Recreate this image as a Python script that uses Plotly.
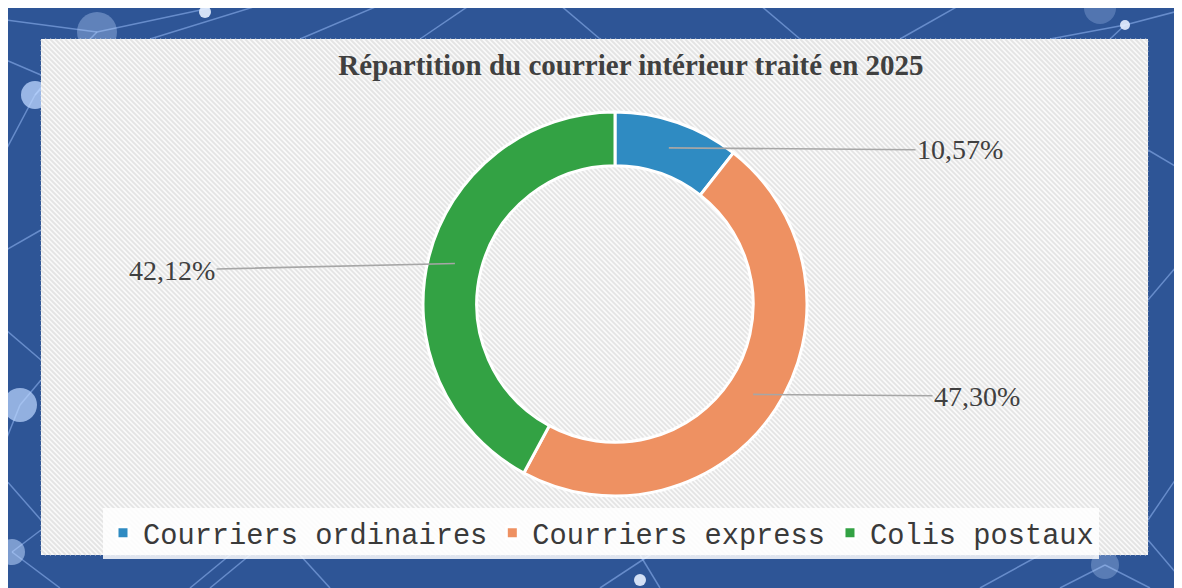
import math
import plotly.graph_objects as go

# ---------------- data ----------------
categories = ["Courriers ordinaires", "Courriers express", "Colis postaux"]
values = [10.57, 47.30, 42.12]
colors = ["#2f8bc2", "#ee9162", "#33a244"]
title_text = "Répartition du courrier intérieur traité en 2025"

# ---------------- layout constants (page pixels) ----------------
OFF = 8                      # page body margin
W, H = 1182 - OFF, 588 - OFF # figure size
CX, CY, R = 615, 304, 192    # donut centre / radius (page pixels)
HOLE = 0.72
label_centres = [(960, 150), (977, 396), (172, 270)]  # label text centres (page pixels)

def px2paper(x, y):
    return (x - OFF) / W, 1 - (y - OFF) / H

# ---------------- background decoration ----------------
shapes = []
net_lines = [
    (6, 20, 97, 32), (97, 32, 210, 8), (97, 32, 35, 95), (35, 95, 6, 150),
    (35, 95, 80, 39), (150, 39, 260, 5), (300, 39, 380, 5), (420, 39, 470, 5),
    (6, 60, 41, 75), (6, 250, 41, 230), (6, 330, 41, 360), (20, 405, 41, 380),
    (20, 405, 6, 440), (6, 480, 41, 520), (12, 552, 41, 530), (12, 552, 60, 588),
    (190, 588, 230, 555), (210, 588, 250, 555), (330, 588, 300, 555),
    (600, 588, 650, 555), (660, 588, 640, 555), (980, 588, 1040, 555),
    (1060, 588, 1105, 565), (1105, 565, 1150, 588), (1148, 520, 1182, 470),
    (1148, 540, 1182, 580), (1148, 300, 1182, 260), (1148, 150, 1182, 170),
    (1050, 39, 1125, 25), (1125, 25, 1182, 10), (1125, 25, 1110, 39),
    (900, 39, 960, 5), (760, 5, 800, 39), (560, 5, 600, 39),
]
for x0, y0, x1, y1 in net_lines:
    a = px2paper(x0, y0)
    b = px2paper(x1, y1)
    shapes.append(dict(type="line", xref="paper", yref="paper", layer="below",
                       x0=a[0], y0=a[1], x1=b[0], y1=b[1],
                       line=dict(color="rgba(160,195,255,0.5)", width=1.5)))
net_nodes = [(97, 32, 20, 0.35), (35, 95, 14, 0.75), (20, 405, 17, 0.7),
             (12, 552, 13, 0.55), (1105, 565, 14, 0.3), (1100, 8, 16, 0.25)]
for x, y, r, op in net_nodes:
    a = px2paper(x - r, y - r)
    b = px2paper(x + r, y + r)
    shapes.append(dict(type="circle", xref="paper", yref="paper", layer="below",
                       x0=a[0], y0=b[1], x1=b[0], y1=a[1],
                       fillcolor="rgba(190,215,255,%.2f)" % op, line=dict(width=0)))
for x, y, r in [(205, 12, 6), (1125, 25, 5), (640, 580, 6)]:
    a = px2paper(x - r, y - r)
    b = px2paper(x + r, y + r)
    shapes.append(dict(type="circle", xref="paper", yref="paper", layer="below",
                       x0=a[0], y0=b[1], x1=b[0], y1=a[1],
                       fillcolor="rgba(230,240,255,0.9)", line=dict(width=0)))

# light panel
PX0, PX1, PY0, PY1 = 41, 1148, 39, 555
a = px2paper(PX0, PY0)
b = px2paper(PX1, PY1)
shapes.append(dict(type="rect", xref="paper", yref="paper", layer="below",
                   x0=a[0], y0=b[1], x1=b[0], y1=a[1],
                   fillcolor="#f9f9f9", line=dict(width=0)))
# hatch stripes
segs = []
c = PX0 - PY1
while c <= PX1 - PY0:
    ya = max(PY0, PX0 - c)
    yb = min(PY1, PX1 - c)
    if yb > ya:
        p0 = px2paper(ya + c, ya)
        p1 = px2paper(yb + c, yb)
        segs.append("M%.5f,%.5fL%.5f,%.5f" % (p0[0], p0[1], p1[0], p1[1]))
    c += 5
shapes.append(dict(type="path", xref="paper", yref="paper", layer="below",
                   path="".join(segs), line=dict(color="#e4e4e4", width=1.8)))

# ---------------- donut ----------------
fig = go.Figure()
dx0, dy0 = px2paper(CX - R, CY + R)
dx1, dy1 = px2paper(CX + R, CY - R)
fig.add_trace(go.Pie(
    labels=categories, values=values, hole=HOLE, sort=False,
    direction="clockwise", rotation=0,
    marker=dict(colors=colors, line=dict(color="white", width=3)),
    textinfo="none", hoverinfo="label+percent",
    domain=dict(x=[dx0, dx1], y=[dy0, dy1]),
))

# labels with leader lines
total = sum(values)
rm = R * (1 + HOLE) / 2
annotations = []
cum = 0
for v, (tx, ty) in zip(values, label_centres):
    th = 2 * math.pi * (cum + v / 2) / total
    cum += v
    hx = CX + rm * math.sin(th)
    hy = CY - rm * math.cos(th)
    xp, yp = px2paper(hx, hy)
    annotations.append(dict(
        x=xp, y=yp, xref="paper", yref="paper",
        ax=tx - hx, ay=ty - hy, axref="pixel", ayref="pixel",
        text=("%.2f" % v).replace(".", ",") + "%",
        showarrow=True, arrowhead=0, arrowwidth=1.6, arrowcolor="#a6a6a6",
        standoff=0, startstandoff=0,
        font=dict(family="Liberation Serif", size=28, color="#404040"),
    ))

tx, ty = px2paper(631, 65)
lx, ly = px2paper(601, 533)
fig.update_layout(
    width=W, height=H,
    margin=dict(l=0, r=0, t=0, b=0),
    paper_bgcolor="#2e5596", plot_bgcolor="#2e5596",
    shapes=shapes, annotations=annotations,
    title=dict(text=title_text, x=tx, y=ty,
               xanchor="center", yanchor="middle", xref="paper", yref="paper",
               font=dict(family="Liberation Serif", size=29, color="#404040",
                         weight="bold")),
    showlegend=True,
    legend=dict(orientation="h", x=lx, xanchor="center",
                y=ly, yanchor="middle",
                bgcolor="rgba(255,255,255,0.85)",
                font=dict(family="Liberation Mono", size=28.7, color="#3a3a3a"),
                traceorder="normal"),
)

fig.write_html("out.html")
